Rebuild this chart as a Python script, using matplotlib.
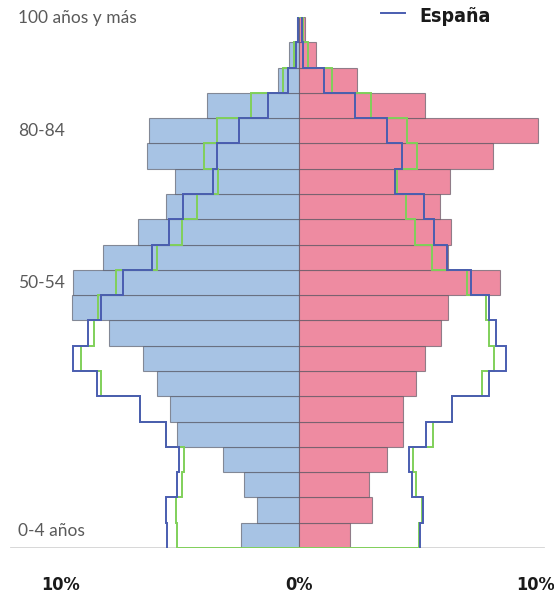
import matplotlib
matplotlib.use("Agg")
import matplotlib.pyplot as plt
import numpy as np

# grupos de edad, de abajo (0-4) arriba (100 y mas)
grupos = ['0-4', '5-9', '10-14', '15-19', '20-24', '25-29', '30-34', '35-39',
          '40-44', '45-49', '50-54', '55-59', '60-64', '65-69', '70-74',
          '75-79', '80-84', '85-89', '90-94', '95-99', '100+']
etiquetas = {0: '0-4 años', 10: '50-54', 16: '80-84', 20: '100 años y más'}

# % del municipio (barras)
hombres = [2.43, 1.76, 2.30, 3.18, 5.10, 5.41, 5.94, 6.53, 7.95, 9.50, 9.46,
           8.20, 6.74, 5.56, 5.19, 6.36, 6.28, 3.85, 0.88, 0.42, 0.10]
mujeres = [2.13, 3.04, 2.93, 3.67, 4.34, 4.34, 4.90, 5.30, 5.97, 6.23, 8.44,
           6.23, 6.39, 5.90, 6.32, 8.12, 10.0, 5.27, 2.45, 0.72, 0.25]

# España (linea azul)
esp_h = [5.53, 5.58, 5.12, 5.03, 5.58, 6.67, 8.47, 9.48, 8.85, 8.30, 7.38,
         6.16, 5.45, 4.86, 3.61, 3.44, 2.52, 1.30, 0.46, 0.13, 0.06]
esp_m = [5.07, 5.20, 4.73, 4.61, 5.32, 6.42, 7.97, 8.67, 8.25, 7.97, 7.20,
         6.21, 5.66, 5.24, 4.03, 4.32, 3.68, 2.35, 1.05, 0.16, 0.12]

# provincia (linea verde)
prov_h = [5.12, 5.16, 4.91, 4.82, 5.58, 6.67, 8.30, 9.14, 8.60, 8.43, 7.67,
          5.95, 4.91, 4.28, 3.40, 3.98, 3.44, 2.01, 0.67, 0.21, 0.06]
prov_m = [5.05, 5.15, 4.90, 4.78, 5.62, 6.42, 7.66, 8.18, 7.97, 7.83, 7.03,
          5.56, 4.86, 4.49, 4.10, 4.95, 4.52, 3.02, 1.40, 0.38, 0.16]

ticks = [-10, 0, 10]
tick_labels = ['10%', '0%', '10%']

azul_barra = '#a7c3e4'
rosa_barra = '#ee8ba1'
azul_linea = '#4a5db0'
verde_linea = '#80d05a'

fig = plt.figure(figsize=(5.54, 5.97), dpi=100)
ax = fig.add_axes([0, 0.0821, 1, 0.8894])

n = len(grupos)
y = np.arange(n) + 0.5
bordes = np.arange(n + 1)

ax.barh(y, -np.array(hombres), height=1.0, color=azul_barra,
        edgecolor=(0.3, 0.3, 0.35, 0.6), linewidth=0.8, zorder=2)
ax.barh(y, mujeres, height=1.0, color=rosa_barra,
        edgecolor=(0.3, 0.3, 0.35, 0.6), linewidth=0.8, zorder=2)

ax.axhline(0, xmin=0.02, xmax=0.98, color='#d4d4d4', lw=2, zorder=1)

# lineas escalonadas
ax.stairs(-np.array(prov_h), bordes, orientation='horizontal', baseline=0,
          color=verde_linea, lw=1.4, zorder=3)
ax.stairs(prov_m, bordes, orientation='horizontal', baseline=0,
          color=verde_linea, lw=1.4, zorder=3)
ax.stairs(-np.array(esp_h), bordes, orientation='horizontal', baseline=None,
          color=azul_linea, lw=1.4, zorder=4)
ax.stairs(esp_m, bordes, orientation='horizontal', baseline=None,
          color=azul_linea, lw=1.4, zorder=4)

ax.set_xlim(-299 / 23.85, 255 / 23.85)
ax.set_ylim(0, n)
ax.axis('off')

for i, txt in etiquetas.items():
    yy = i + 0.5
    if i == 0:
        yy = 0.68
    if i == 20:
        yy = 20.98
    ax.text(-11.78, yy, txt, ha='left', va='center', fontsize=12.5,
            color='#5a5a5a', family=['Lato', 'DejaVu Sans'])

for t, lab in zip(ticks, tick_labels):
    ax.text(min(t, 9.9), -1.45, lab, ha='center', va='center', fontsize=13,
            fontweight='bold', color='#1a1a1a',
            family=['DejaVu Sans Condensed', 'DejaVu Sans'], fontstretch='condensed')

# leyenda
fig.add_artist(plt.Line2D([381 / 554, 405 / 554], [1 - 13 / 597, 1 - 13 / 597],
                          color=azul_linea, lw=1.4))
fig.text(419 / 554, 1 - 16 / 597, 'España', ha='left', va='center',
         fontsize=14, fontweight='bold', color='#1a1a1a',
         family=['DejaVu Sans Condensed', 'DejaVu Sans'], fontstretch='condensed')

fig.savefig('out.png', dpi=100)
